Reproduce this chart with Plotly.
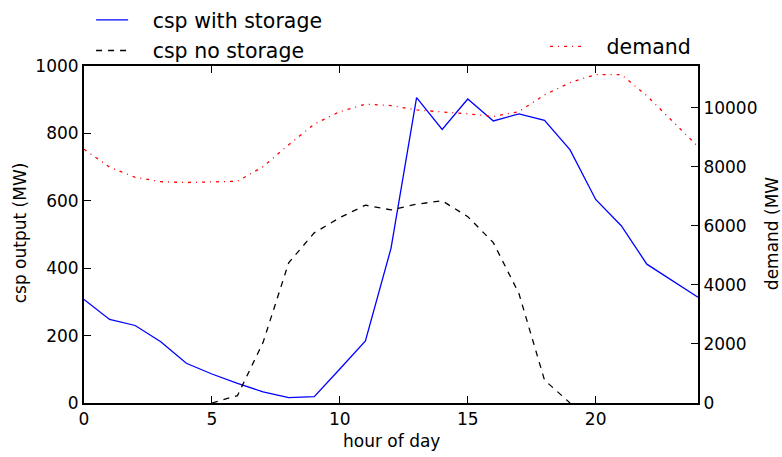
import plotly.graph_objects as go

hours = list(range(25))
csp_storage = [307, 248, 230, 182, 118, 86, 58, 33, 16, 19, 101, 184, 459, 906,
               812, 902, 837, 858, 839, 751, 604, 526, 412, 363, 314]
csp_no_storage = [None, None, None, None, None, 0, 22, 180, 416, 505, 550, 587, 573, 590,
                  600, 553, 476, 325, 68, 0, None, None, None, None, None]
demand = [8600, 7990, 7650, 7500, 7470, 7490, 7515, 8010, 8750, 9450, 9875, 10125,
          10080, 9930, 9875, 9800, 9710, 9875, 10440, 10860, 11130, 11130, 10410,
          9560, 8690]
demand_ticks = [0, 2000, 4000, 6000, 8000, 10000]
x_ticks = [0, 5, 10, 15, 20]
csp_ticks = [0, 200, 400, 600, 800, 1000]

FONT = "DejaVu Sans"
NB = "\u00a0\u00a0\u00a0"

fig = go.Figure()
fig.add_trace(go.Scatter(x=hours, y=csp_storage, mode="lines", name=NB + "csp with storage",
                         line=dict(color="#0000ff", width=1.3), legend="legend",
                         legendgroup="a"))
fig.add_trace(go.Scatter(x=hours, y=csp_no_storage, mode="lines", name=NB + "csp no storage",
                         line=dict(color="#000000", width=1.3, dash="6px,6px"), legend="legend",
                         legendgroup="b"))
fig.add_trace(go.Scatter(x=hours, y=demand, mode="lines", name=NB + "demand", yaxis="y2",
                         line=dict(color="#ff0000", width=1.3, dash="3px,5px,1px,5px"),
                         legend="legend2"))

axis_common = dict(showline=True, linecolor="black", linewidth=2, ticks="inside",
                   ticklen=7, tickwidth=1, tickcolor="black", showgrid=False,
                   zeroline=False)
tf = dict(family=FONT, size=17, color="black")

fig.update_layout(
    width=782, height=457,
    margin=dict(l=84, r=84, t=66, b=54, autoexpand=False),
    paper_bgcolor="white", plot_bgcolor="white",
    xaxis=dict(range=[0, 24], tickvals=x_ticks, mirror="ticks", tickfont=tf, **axis_common),
    yaxis=dict(range=[0, 1000], tickvals=csp_ticks, tickfont=tf, **axis_common),
    yaxis2=dict(range=[0, 11420], overlaying="y", side="right",
                tickvals=demand_ticks, ticktext=[str(v) for v in demand_ticks],
                tickfont=tf, **axis_common),
    legend=dict(x=0.1165, y=1.0136, xanchor="left", yanchor="top", xref="container",
                yref="container", font=dict(family=FONT, size=20.5, color="black"),
                bgcolor="rgba(0,0,0,0)", itemwidth=32, tracegroupgap=1),
    legend2=dict(x=0.697, y=0.942, xanchor="left", yanchor="top", xref="container",
                 yref="container", font=dict(family=FONT, size=20.5, color="black"),
                 bgcolor="rgba(0,0,0,0)", itemwidth=32),
    annotations=[
        dict(text="hour of day", x=0.5, y=-0.113, xref="paper", yref="paper",
             showarrow=False, font=tf, xanchor="center", yanchor="middle"),
        dict(text="csp output (MW)", x=-0.104, y=0.504, xref="paper", yref="paper",
             showarrow=False, font=tf, textangle=-90, xanchor="center", yanchor="middle"),
        dict(text="demand (MW", x=1.1205, y=0.504, xref="paper", yref="paper",
             showarrow=False, font=tf, textangle=-90, xanchor="center", yanchor="middle"),
    ],
)

fig.write_html("out.html")
